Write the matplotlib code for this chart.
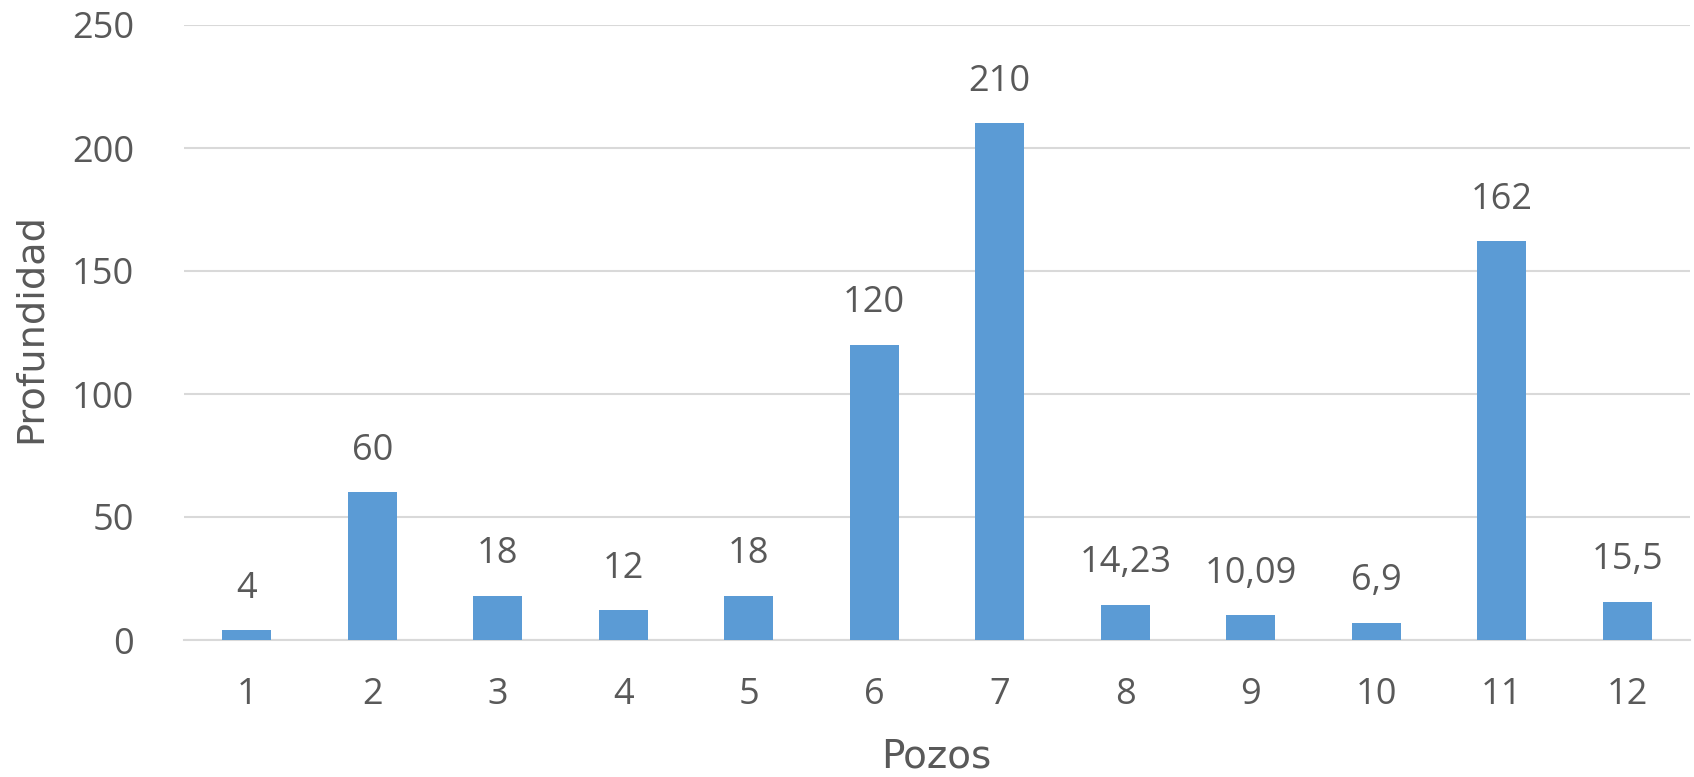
import matplotlib
matplotlib.use("Agg")
import matplotlib.pyplot as plt

pozos = ["1", "2", "3", "4", "5", "6", "7", "8", "9", "10", "11", "12"]
profundidad = [4, 60, 18, 12, 18, 120, 210, 14.23, 10.09, 6.9, 162, 15.5]
etiquetas = ["4", "60", "18", "12", "18", "120", "210", "14,23", "10,09", "6,9", "162", "15,5"]
y_ticks = [0, 50, 100, 150, 200, 250]

W, H, DPI = 1694, 777, 100
fig = plt.figure(figsize=(W / DPI, H / DPI), dpi=DPI)
ax = fig.add_axes([184 / W, 1 - 640 / H, (1690 - 184) / W, (640 - 25) / H])

num_font = ["Open Sans", "DejaVu Sans"]
title_font = ["DejaVu Sans"]
text_color = "#595959"
fs = 26

x = list(range(len(pozos)))
ax.bar(x, profundidad, width=0.39, color="#5B9BD5", zorder=3)

ax.set_xlim(-0.5, len(pozos) - 0.5)
ax.set_ylim(0, 250)
ax.set_yticks(y_ticks)
ax.set_yticklabels([str(v) for v in y_ticks], fontsize=fs, color=text_color, family=num_font)
ax.set_xticks(x)
ax.set_xticklabels(pozos, fontsize=fs, color=text_color, family=num_font)
ax.tick_params(axis="y", length=0, pad=36)
ax.tick_params(axis="x", length=0, pad=27)

ax.grid(axis="y", color="#D9D9D9", linewidth=1.5, zorder=0)
for s in ["top", "right", "left"]:
    ax.spines[s].set_visible(False)
ax.spines["bottom"].set_color("#D9D9D9")
ax.spines["bottom"].set_linewidth(1.5)

for xi, v, lab in zip(x, profundidad, etiquetas):
    ax.annotate(lab, (xi, v), xytext=(0, 17), textcoords="offset points",
                ha="center", va="bottom", fontsize=fs, color=text_color,
                family=num_font)

fig.text(936 / W, 1 - 767 / H, "Pozos", ha="center", va="baseline", fontsize=28,
         color=text_color, family=title_font)
fig.text(31 / W, 1 - 328 / H, "Profundidad", ha="center", va="center", rotation=90,
         fontsize=27.5, color=text_color, family=title_font)

fig.savefig("out.png", dpi=DPI, facecolor="white")
